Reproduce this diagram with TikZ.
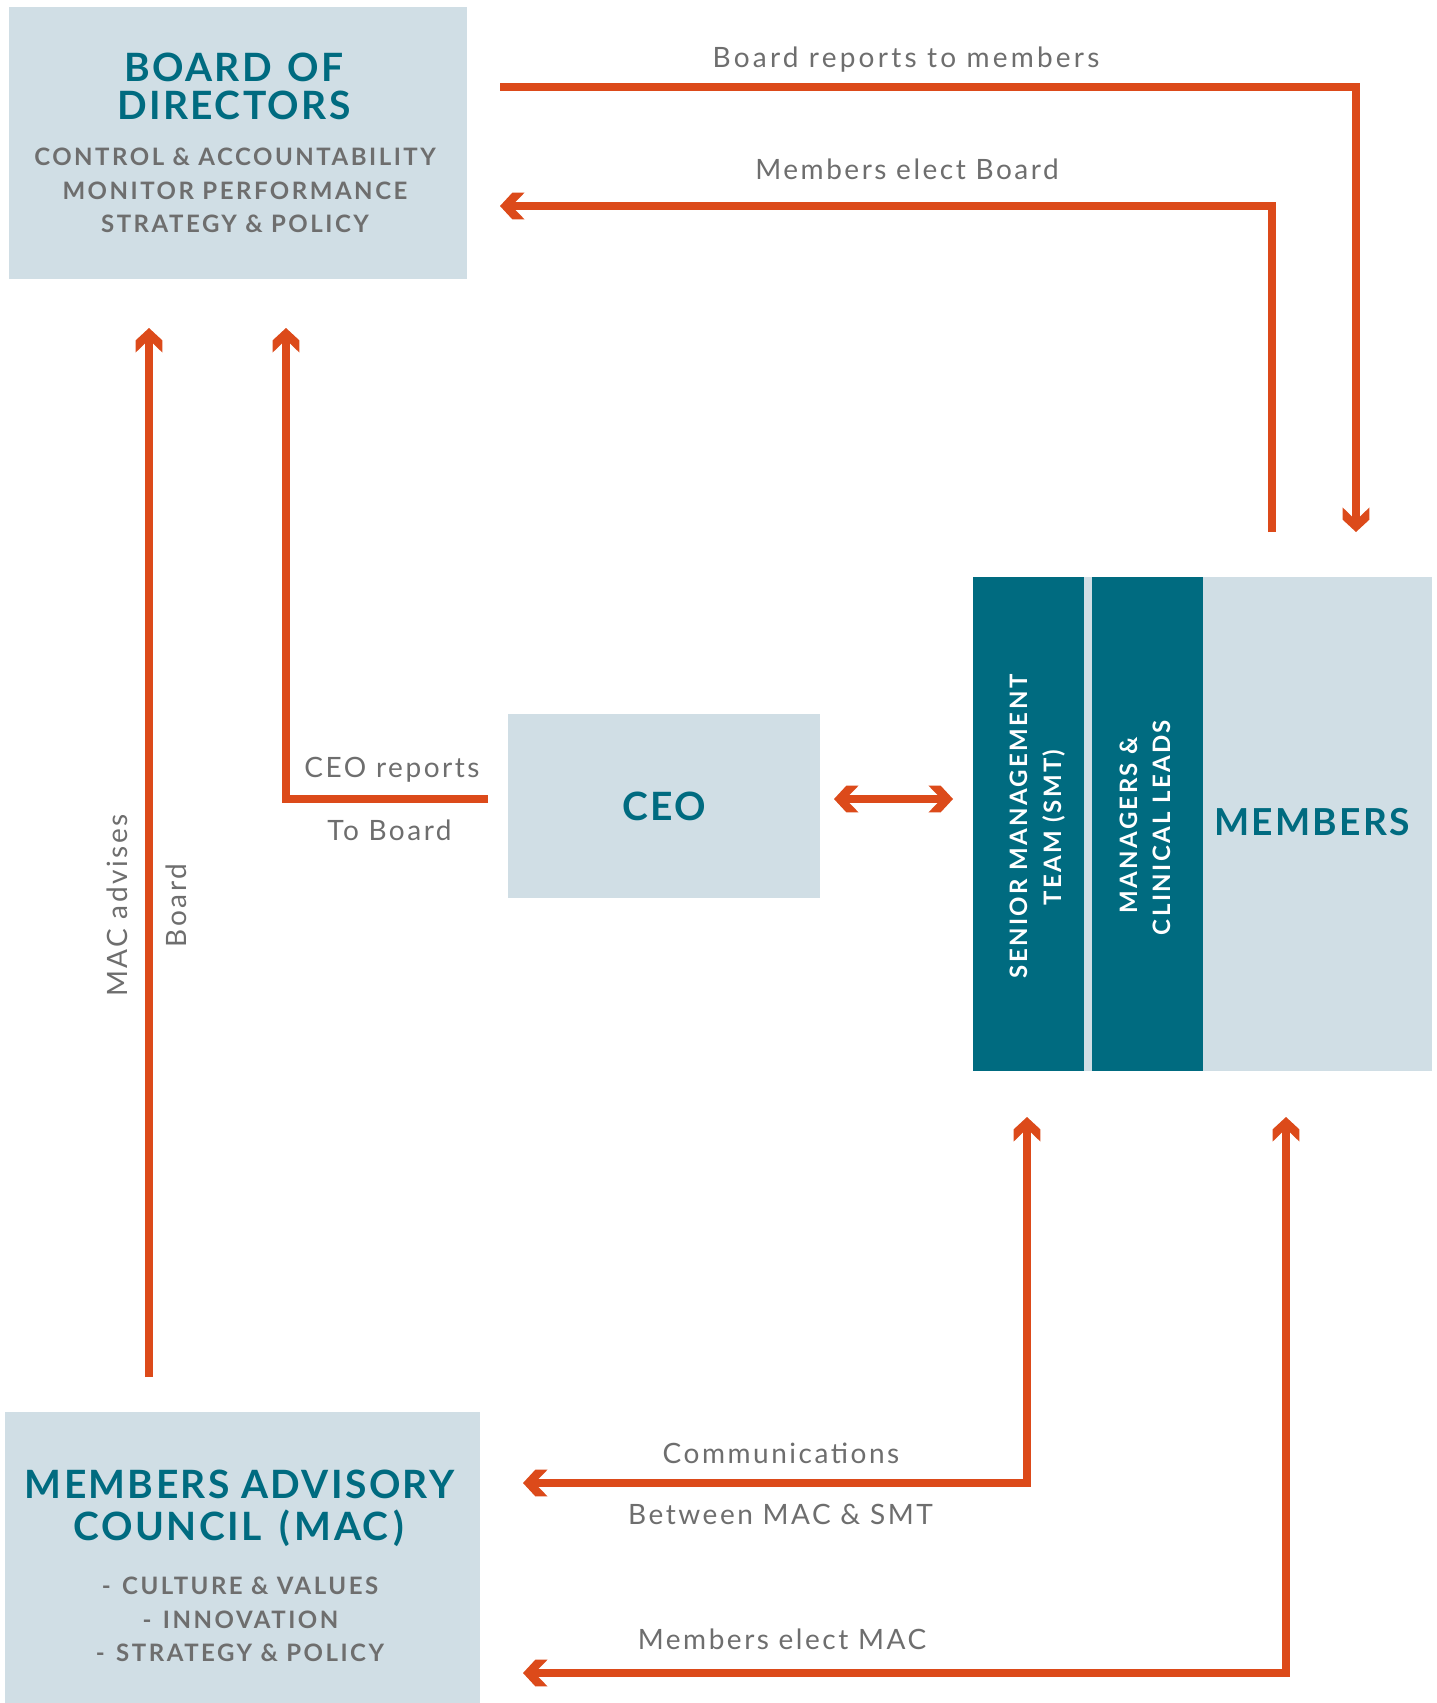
\documentclass[tikz,border=0pt]{standalone}
\usepackage{fontspec}
\setmainfont{Lato}
\newfontfamily\ttlf[LetterSpace=6]{Lato}
\newfontfamily\subf[LetterSpace=10.5]{Lato}
\newfontfamily\lblf[LetterSpace=9]{Lato}
\newfontfamily\lblwf[LetterSpace=11.5]{Lato}
\newfontfamily\vrtf[LetterSpace=10]{Lato}
\usetikzlibrary{arrows.meta,fit}
\definecolor{tealc}{HTML}{006B80}
\definecolor{paleb}{HTML}{D0DEE5}
\definecolor{orng}{HTML}{DC4A1A}
\definecolor{greyt}{HTML}{6E6E6E}
\pgfdeclarearrow{
  name = Chev,
  parameters = {},
  setup code = {
    \pgfarrowssettipend{0pt}
    \pgfarrowssetlineend{-7pt}
    \pgfarrowssetbackend{-12.3pt}
    \pgfarrowshullpoint{0pt}{0pt}
    \pgfarrowsupperhullpoint{-12.3pt}{6.7pt}
  },
  drawing code = {
    \pgfpathmoveto{\pgfqpoint{0pt}{0pt}}
    \pgfpathlineto{\pgfqpoint{-6.2pt}{6.7pt}}
    \pgfpathlineto{\pgfqpoint{-12.3pt}{6.7pt}}
    \pgfpathlineto{\pgfqpoint{-7.7pt}{2pt}}
    \pgfpathlineto{\pgfqpoint{-7.7pt}{-2pt}}
    \pgfpathlineto{\pgfqpoint{-12.3pt}{-6.7pt}}
    \pgfpathlineto{\pgfqpoint{-6.2pt}{-6.7pt}}
    \pgfpathclose
    \pgfusepathqfill
  }
}
\begin{document}
\begin{tikzpicture}[x=0.5pt,y=-0.5pt,
  pbox/.style={fill=paleb, draw=none, inner sep=0pt},
  dbox/.style={fill=tealc, draw=none, inner sep=0pt},
  ttl/.style={text=tealc, font=\ttlf\bfseries\fontsize{19.5}{23}\selectfont, anchor=base, inner sep=0pt},
  sub/.style={text=greyt, font=\subf\bfseries\fontsize{12}{14}\selectfont, anchor=base, inner sep=0pt},
  lbl/.style={text=greyt, font=\lblf\fontsize{14}{16}\selectfont, anchor=base, inner sep=0pt},
  vrt/.style={text=white, font=\vrtf\bfseries\fontsize{12}{14}\selectfont, anchor=base, inner sep=0pt, rotate=90},
  conn/.style={color=orng, line width=4pt},
]
\fill[white] (0,0) rectangle (1436,1703);
\useasboundingbox (0,0) rectangle (1436,1703);

% boxes
\node[pbox, fit={(9,7) (467,279)}] (board) {};
\node[pbox, fit={(508,714) (820,898)}] (ceo) {};
\node[pbox, fit={(973,577) (1432,1071)}] (memb) {};
\node[dbox, fit={(973,577) (1084,1071)}] (smt) {};
\node[dbox, fit={(1092,577) (1203,1071)}] (mgr) {};
\node[pbox, fit={(5,1412) (480,1703)}] (mac) {};

% box texts
\node[ttl] (bt1) at (234,81.5) {BOARD \hspace{2pt}OF};
\node[ttl] (bt2) at (234,119) {DIRECTORS};
\node[sub] (bs1) at (235,165) {CONTROL \& ACCOUNTABILITY};
\node[sub] (bs2) at (235,199) {MONITOR PERFORMANCE};
\node[sub] (bs3) at (235,232) {STRATEGY \& POLICY};
\node[ttl] (ceot) at (664,820) {CEO};
\node[ttl, font=\ttlf\bfseries\fontsize{18.6}{22}\selectfont] (membt) at (1312,835) {MEMBERS};
\node[vrt] (smt1) at (1027,826.5) {SENIOR MANAGEMENT};
\node[vrt] (smt2) at (1061,827.5) {TEAM (SMT)};
\node[vrt] (mgr1) at (1137,825.5) {MANAGERS \&};
\node[vrt] (mgr2) at (1170,827.5) {CLINICAL LEADS};
\node[ttl] (mt1) at (239.5,1498) {MEMBERS ADVISORY};
\node[ttl] (mt2) at (239,1540) {COUNCIL \hspace{3pt}(\kern2.5pt MAC\kern2.5pt)};
\node[sub] (ms1) at (240,1594) {-\hspace{1.5pt} CULTURE \& VALUES};
\node[sub] (ms2) at (240.5,1628) {-\hspace{1.5pt} INNOVATION};
\node[sub] (ms3) at (240,1661) {-\hspace{1.5pt} STRATEGY \& POLICY};

% labels
\node[lbl, font=\lblwf\fontsize{14}{16}\selectfont] (l1) at (906,67) {Board reports to members};
\node[lbl] (l2) at (907,179) {Members elect Board};
\node[lbl] (l3) at (392,777) {CEO reports};
\node[lbl] (l4) at (389.5,840) {To Board};
\node[lbl, rotate=90] (l5) at (127,905.5) {MAC advises};
\node[lbl, rotate=90] (l6) at (186,905.5) {Board};
\node[lbl] (l7) at (781,1463) {Communications};
\node[lbl] (l8) at (780.5,1524) {Between MAC \& SMT};
\node[lbl] (l9) at (782,1649) {Members elect MAC};

% connectors
\coordinate (c1a) at (500,87); \coordinate (c1b) at (1356,532);
\draw[conn,-Chev] (c1a) -| (c1b);
\coordinate (c2a) at (1272,532); \coordinate (c2b) at (500,206);
\draw[conn,-Chev] (c2a) |- (c2b);
\coordinate (c3a) at (149,1377); \coordinate (c3b) at (149,328);
\draw[conn,-Chev] (c3a) -- (c3b);
\coordinate (c4a) at (488,799); \coordinate (c4b) at (286,328);
\draw[conn,-Chev] (c4a) -| (c4b);
\coordinate (c5a) at (834,799); \coordinate (c5b) at (953,799);
\draw[conn,Chev-Chev] (c5a) -- (c5b);
\coordinate (c6a) at (523,1483); \coordinate (c6b) at (1027,1117);
\draw[conn,Chev-Chev] (c6a) -| (c6b);
\coordinate (c7a) at (523,1673); \coordinate (c7b) at (1286,1117);
\draw[conn,Chev-Chev] (c7a) -| (c7b);
\end{tikzpicture}
\end{document}
